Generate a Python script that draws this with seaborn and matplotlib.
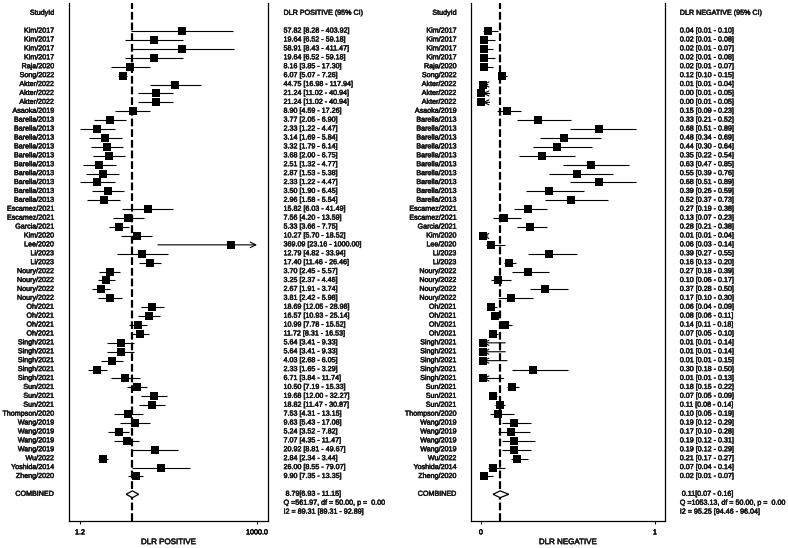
import matplotlib
matplotlib.use("Agg")
import matplotlib.pyplot as plt
import matplotlib.transforms as mtransforms
import matplotlib.patheffects as pe
import numpy as np
import pandas as pd
import seaborn as sns

studies = [
    "Kim/2017", "Kim/2017", "Kim/2017", "Kim/2017", "Raja/2020", "Song/2022",
    "Akter/2022", "Akter/2022", "Akter/2022", "Asaoka/2019",
    "Barella/2013", "Barella/2013", "Barella/2013", "Barella/2013", "Barella/2013",
    "Barella/2013", "Barella/2013", "Barella/2013", "Barella/2013", "Barella/2013",
    "Escamez/2021", "Escamez/2021", "Garcia/2021", "Kim/2020", "Lee/2020",
    "Li/2023", "Li/2023", "Noury/2022", "Noury/2022", "Noury/2022", "Noury/2022",
    "Oh/2021", "Oh/2021", "Oh/2021", "Oh/2021",
    "Singh/2021", "Singh/2021", "Singh/2021", "Singh/2021", "Singh/2021",
    "Sun/2021", "Sun/2021", "Sun/2021", "Thompson/2020",
    "Wang/2019", "Wang/2019", "Wang/2019", "Wang/2019",
    "Wu/2022", "Yoshida/2014", "Zheng/2020",
]

pos_est = [57.82, 19.64, 58.91, 19.64, 8.16, 6.07, 44.75, 21.24, 21.24, 8.90,
           3.77, 2.33, 3.14, 3.32, 3.68, 2.51, 2.87, 2.33, 3.50, 2.96,
           15.82, 7.56, 5.33, 10.27, 369.09, 12.79, 17.40, 3.70, 3.25, 2.67, 3.81,
           18.69, 16.57, 10.99, 11.72, 5.64, 5.64, 4.03, 2.33, 6.71,
           10.50, 19.68, 18.82, 7.53, 9.63, 5.24, 7.07, 20.92, 2.84, 26.00, 9.90]
pos_lo = [8.28, 6.52, 8.43, 6.52, 3.85, 5.07, 16.98, 11.02, 11.02, 4.59,
          2.05, 1.22, 1.69, 1.79, 2.00, 1.32, 1.53, 1.22, 1.90, 1.58,
          6.03, 4.20, 3.66, 5.70, 23.16, 4.82, 11.46, 2.45, 2.37, 1.91, 2.42,
          12.05, 10.93, 7.78, 8.31, 3.41, 3.41, 2.68, 1.65, 3.84,
          7.19, 12.00, 11.47, 4.31, 5.43, 3.52, 4.35, 8.81, 2.34, 8.55, 7.35]
pos_hi = [403.92, 59.18, 411.47, 59.18, 17.30, 7.26, 117.94, 40.94, 40.94, 17.26,
          6.90, 4.47, 5.84, 6.14, 6.75, 4.77, 5.38, 4.47, 6.45, 5.54,
          41.49, 13.59, 7.75, 18.52, 1000.00, 33.94, 26.46, 5.57, 4.46, 3.74, 5.98,
          28.98, 25.14, 15.52, 16.53, 9.33, 9.33, 6.05, 3.29, 11.74,
          15.33, 32.27, 30.87, 13.15, 17.08, 7.82, 11.47, 49.67, 3.44, 79.07, 13.35]

neg_est = [0.04, 0.02, 0.02, 0.02, 0.02, 0.12, 0.01, 0.00, 0.00, 0.15,
           0.33, 0.68, 0.48, 0.44, 0.35, 0.63, 0.55, 0.68, 0.39, 0.52,
           0.27, 0.13, 0.28, 0.01, 0.06, 0.39, 0.16, 0.27, 0.10, 0.37, 0.17,
           0.06, 0.08, 0.14, 0.07, 0.01, 0.01, 0.01, 0.30, 0.01,
           0.18, 0.07, 0.11, 0.10, 0.19, 0.17, 0.19, 0.19, 0.21, 0.07, 0.02]
neg_lo = [0.01, 0.01, 0.01, 0.01, 0.01, 0.10, 0.01, 0.01, 0.01, 0.09,
          0.21, 0.51, 0.34, 0.30, 0.22, 0.47, 0.39, 0.51, 0.26, 0.37,
          0.19, 0.07, 0.21, 0.01, 0.03, 0.27, 0.13, 0.18, 0.06, 0.28, 0.10,
          0.04, 0.06, 0.11, 0.05, 0.01, 0.01, 0.01, 0.18, 0.01,
          0.15, 0.05, 0.08, 0.05, 0.12, 0.10, 0.12, 0.12, 0.17, 0.04, 0.01]
neg_hi = [0.10, 0.08, 0.07, 0.08, 0.07, 0.15, 0.04, 0.05, 0.05, 0.23,
          0.52, 0.89, 0.69, 0.64, 0.54, 0.85, 0.76, 0.89, 0.59, 0.73,
          0.38, 0.23, 0.38, 0.04, 0.14, 0.55, 0.20, 0.39, 0.17, 0.50, 0.30,
          0.09, 0.11, 0.18, 0.10, 0.14, 0.14, 0.15, 0.50, 0.13,
          0.22, 0.09, 0.14, 0.19, 0.29, 0.28, 0.31, 0.29, 0.27, 0.14, 0.07]

pos_summary = [8.79, 6.93, 11.15]
neg_summary = [0.11, 0.07, 0.16]
pos_stats = ["Q =561.97, df = 50.00, p =  0.00", "I2 = 89.31 [89.31 - 92.89]"]
neg_stats = ["Q =1053.13, df = 50.00, p =  0.00", "I2 = 95.25 [94.46 - 96.04]"]

sns.set_theme(style="white")
plt.rcParams["font.family"] = ["Liberation Sans", "DejaVu Sans"]

FS = 5.15
# thicken the regular glyphs a bit without widening them
HEAVY = [pe.withStroke(linewidth=0.35, foreground="black")]


def draw_panel(ax, est, lo, hi, summary, stats, header, xlabel, log):
    n = len(est)
    df = pd.DataFrame({"study": studies, "est": est, "lo": lo, "hi": hi,
                       "row": np.arange(n)})
    if log:
        ax.set_xscale("log")
        clip_right = df["hi"] >= 1000
        clip_left = pd.Series(False, index=df.index)
    else:
        clip_right = pd.Series(False, index=df.index)
        clip_left = df["est"] <= df["lo"]
    plain = df[~(clip_right | clip_left)]
    ax.hlines(plain["row"], plain["lo"], plain["hi"], color="black", lw=0.8, zorder=2)
    for _, r in df[clip_right].iterrows():
        ax.annotate("", xy=(r["hi"], r["row"]), xytext=(r["lo"], r["row"]),
                    arrowprops=dict(arrowstyle="->", color="black", lw=0.8,
                                    mutation_scale=10, shrinkA=0, shrinkB=0))
    for _, r in df[clip_left].iterrows():
        ax.annotate("", xy=(r["lo"], r["row"]), xytext=(r["hi"], r["row"]),
                    arrowprops=dict(arrowstyle="->", color="black", lw=0.8,
                                    mutation_scale=9, shrinkA=0, shrinkB=0))

    sns.scatterplot(data=df, x="est", y="row", marker="s", s=32, color="black",
                    edgecolor="black", linewidth=0, zorder=3, legend=False, ax=ax)

    ax.axvline(summary[0], color="black", lw=1.6, dashes=(3.5, 1.3), zorder=1)

    comb = n + 1
    ax.fill([summary[1], summary[0], summary[2], summary[0]],
            [comb, comb - 0.38, comb, comb + 0.38],
            facecolor="white", edgecolor="black", lw=0.9, zorder=4)

    trans = mtransforms.blended_transform_factory(ax.transAxes, ax.transData)
    tk = dict(fontsize=FS, transform=trans, clip_on=False, va="center",
              path_effects=HEAVY)
    xl, xr = -0.075, 1.078
    ax.text(xl, -2, "StudyId", ha="right", **tk)
    ax.text(xr, -2, header, ha="left", **tk)
    for _, r in df.iterrows():
        ax.text(xl, r["row"], r["study"], ha="right", **tk)
        ax.text(xr, r["row"], f"{r['est']:.2f} [{r['lo']:.2f} - {r['hi']:.2f}]",
                ha="left", **tk)
    ax.text(xl, comb, "COMBINED", ha="right", **tk)
    ax.text(xr, comb, f" {summary[0]:.2f}[{summary[1]:.2f} - {summary[2]:.2f}]",
            ha="left", **tk)
    ax.text(xr, comb + 1, stats[0], ha="left", **tk)
    ax.text(xr, comb + 2, stats[1], ha="left", **tk)

    ax.set_ylim(55.0, -3.15)
    ax.set_yticks([])
    ax.set_ylabel("")
    ax.set_xlabel(xlabel, fontsize=FS + 0.6, labelpad=2)
    ax.xaxis.label.set_path_effects(HEAVY)
    for side in ["left", "right", "bottom"]:
        ax.spines[side].set_visible(True)
        ax.spines[side].set_color("black")
        ax.spines[side].set_linewidth(0.9)
    ax.spines["top"].set_visible(False)
    ax.tick_params(axis="x", which="major", bottom=True, direction="out",
                   length=2, width=0.8, labelsize=FS, pad=4, colors="black")
    ax.tick_params(axis="x", which="minor", bottom=False)


fig = plt.figure(figsize=(7.88, 5.48), dpi=100)
W, H = 788, 548
ax1 = fig.add_axes([69 / W, (H - 521) / H, (268 - 69) / W, (521 - 3) / H])
ax2 = fig.add_axes([471 / W, (H - 521) / H, (664.7 - 471) / W, (521 - 3) / H])

draw_panel(ax1, pos_est, pos_lo, pos_hi, pos_summary, pos_stats,
           "DLR POSITIVE (95% CI)", "DLR POSITIVE", log=True)
ax1.set_xlim(0.79, 1518)
ax1.set_xticks([1.2, 1000.0])
ax1.set_xticklabels(["1.2", "1000.0"])
ax1.xaxis.set_minor_locator(matplotlib.ticker.NullLocator())

draw_panel(ax2, neg_est, neg_lo, neg_hi, neg_summary, neg_stats,
           "DLR NEGATIVE (95% CI)", "DLR NEGATIVE", log=False)
ax2.set_xlim(-0.057, 1.056)
ax2.set_xticks([0, 1])
ax2.set_xticklabels(["0", "1"])

for ax in (ax1, ax2):
    for lab in ax.get_xticklabels():
        lab.set_path_effects(HEAVY)

fig.savefig("out.png", dpi=100, facecolor="white")
